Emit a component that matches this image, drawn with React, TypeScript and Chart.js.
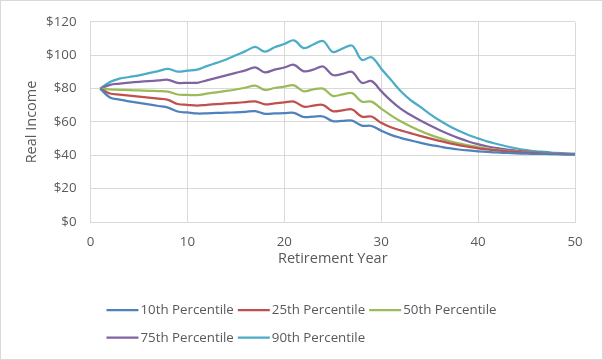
import React, { useEffect, useRef } from "react";
import { Chart, registerables } from "chart.js";

Chart.register(...registerables);

const years: number[] = Array.from({ length: 50 }, (_, i) => i + 1);

const seriesNames: string[] = [
  "10th Percentile",
  "25th Percentile",
  "50th Percentile",
  "75th Percentile",
  "90th Percentile",
];

const p10: number[] = [
  80, 74.7, 73.4, 72.4, 71.5, 70.6, 69.6, 68.6, 66.3, 65.7,
  65.1, 65.2, 65.4, 65.6, 65.8, 66.1, 66.5, 64.9, 65.1, 65.3,
  65.5, 63, 63.2, 63.3, 60.5, 60.7, 60.8, 57.8, 57.6, 54.8,
  52.3, 50.5, 49, 47.6, 46.3, 45.3, 44.3, 43.5, 42.9, 42.4,
  42, 41.7, 41.4, 41.2, 41, 40.9, 40.8, 40.7, 40.6, 40.5,
];
const p25: number[] = [
  80, 77.1, 76.4, 75.8, 75.2, 74.6, 74, 73.3, 70.8, 70.3,
  69.8, 70.3, 70.7, 71.1, 71.5, 71.9, 72.4, 70.6, 71.2, 71.7,
  72.2, 69.2, 69.8, 70.2, 66.5, 67, 67.5, 63.2, 63.3, 59.5,
  56.8, 55, 53.3, 51.7, 50.2, 48.7, 47.3, 46.1, 45.1, 44.2,
  43.5, 42.9, 42.4, 42, 41.6, 41.3, 41, 40.8, 40.6, 40.5,
];
const p50: number[] = [
  80, 79.5, 79.3, 79.1, 78.9, 78.7, 78.5, 78.2, 76.5, 76.3,
  76.1, 77, 77.8, 78.6, 79.5, 80.6, 81.8, 79.2, 80.4, 81.2,
  82, 78.4, 79.6, 80, 75.7, 76.5, 77.3, 72.2, 72.2, 68,
  64, 60.5, 57.5, 54.8, 52.4, 50.4, 48.6, 47.2, 46, 45,
  44, 43.3, 42.7, 42.2, 41.8, 41.5, 41.2, 41, 40.8, 40.6,
];
const p75: number[] = [
  80, 82.3, 83, 83.6, 84.1, 84.5, 84.9, 85.3, 83.5, 83.5,
  83.5, 85, 86.5, 88, 89.5, 91, 92.8, 89.8, 91.4, 92.7,
  94.3, 90.4, 91.4, 93.3, 88.2, 88.8, 90, 83.5, 84.5, 78.5,
  72.8, 68, 64.3, 61, 58, 55.2, 52.6, 50.3, 48.3, 46.7,
  45.3, 44.3, 43.5, 42.7, 42.2, 41.8, 41.4, 41.2, 41, 40.8,
];
const p90: number[] = [
  80, 84, 86, 87, 88, 89.3, 90.5, 91.8, 90.2, 90.8,
  91.4, 93.5, 95.5, 97.5, 100, 102.5, 105, 102.2, 104.8, 106.8,
  109, 104.3, 106.5, 108.6, 102, 104, 105.8, 97.3, 98.8, 92,
  85.3, 78.6, 73.3, 69.2, 64.9, 61, 57.6, 54.7, 52.2, 50.2,
  48.2, 46.7, 45.3, 44.1, 43.1, 42.4, 42, 41.4, 41, 40.8,
];

const seriesValues: number[][] = [p10, p25, p50, p75, p90];
const seriesColors: string[] = ["#4F81BD", "#C0504D", "#9BBB59", "#8064A2", "#4BACC6"];

const xAxisTitle = "Retirement Year";
const yAxisTitle = "Real Income";

const FONT = "'Open Sans', 'Noto Sans', sans-serif";
const TEXT_COLOR = "#595959";
const GRID_COLOR = "#d9d9d9";

const W = 603;
const H = 360;

const backgroundAndLegend = {
  id: "bgLegend",
  beforeDraw(chart: any) {
    const ctx = chart.ctx;
    ctx.save();
    ctx.fillStyle = "#ffffff";
    ctx.fillRect(0, 0, chart.width, chart.height);
    ctx.restore();
  },
  afterDraw(chart: any) {
    const ctx = chart.ctx;
    ctx.save();
    // outer border
    ctx.strokeStyle = GRID_COLOR;
    ctx.lineWidth = 1;
    ctx.strokeRect(0.5, 0.5, chart.width - 1, chart.height - 1);

    // legend: block centered, rows left aligned
    const fontSize = 13.3;
    ctx.font = `${fontSize}px ${FONT}`;
    const lineLen = 32;
    const gap = 2;
    const itemGap = 4;
    const perRow = 3;
    const rowsY = [310, 337.7];
    const datasets = chart.data.datasets;
    const widths = datasets.map((d: any) => lineLen + gap + ctx.measureText(d.label).width);
    let row1 = 0;
    for (let i = 0; i < Math.min(perRow, widths.length); i++) row1 += widths[i] + (i > 0 ? itemGap : 0);
    const startX = chart.width / 2 - row1 / 2;
    ctx.textBaseline = "middle";
    ctx.textAlign = "left";
    datasets.forEach((d: any, i: number) => {
      const row = Math.floor(i / perRow);
      const col = i % perRow;
      let x = startX;
      for (let k = row * perRow; k < row * perRow + col; k++) x += widths[k] + itemGap;
      const y = rowsY[row];
      ctx.strokeStyle = d.borderColor;
      ctx.lineWidth = 2.25;
      ctx.beginPath();
      ctx.moveTo(x, y);
      ctx.lineTo(x + lineLen, y);
      ctx.stroke();
      ctx.fillStyle = TEXT_COLOR;
      ctx.fillText(d.label, x + lineLen + gap, y + 0.5);
    });
    ctx.restore();
  },
};

export default function App() {
  const canvasRef = useRef<HTMLCanvasElement | null>(null);

  useEffect(() => {
    if (!canvasRef.current) return;
    const datasets = seriesNames.map((name, si) => ({
      label: name,
      data: years.map((yr, i) => ({ x: yr, y: seriesValues[si][i] })),
      borderColor: seriesColors[si],
      backgroundColor: seriesColors[si],
      borderWidth: 2.25,
      pointRadius: 0,
      pointHoverRadius: 0,
      tension: 0.35,
      fill: false,
    }));

    const chart = new Chart(canvasRef.current, {
      type: "line",
      data: { datasets },
      options: {
        responsive: false,
        animation: false,
        devicePixelRatio: 1,
        layout: { padding: { top: 18, right: 28, bottom: 0, left: 0 } },
        plugins: {
          legend: { display: false },
          tooltip: { enabled: false },
        },
        scales: {
          x: {
            type: "linear",
            min: 0,
            max: 50,
            ticks: {
              stepSize: 10,
              padding: 12,
              color: TEXT_COLOR,
              font: { family: FONT, size: 13.3 },
            },
            grid: { color: GRID_COLOR, lineWidth: 1, drawTicks: false },
            border: { color: GRID_COLOR },
            title: {
              display: true,
              text: xAxisTitle,
              color: TEXT_COLOR,
              font: { family: FONT, size: 14.5 },
              padding: { top: 0, bottom: 92.8 },
            },
            afterFit: (s: any) => {
              s.height = 138;
            },
          },
          y: {
            type: "linear",
            min: 0,
            max: 120,
            ticks: {
              stepSize: 20,
              padding: 14,
              color: TEXT_COLOR,
              font: { family: FONT, size: 13.3 },
              callback: (v: any) => "$" + v,
            },
            grid: { color: GRID_COLOR, lineWidth: 1, drawTicks: false },
            border: { color: GRID_COLOR },
            title: {
              display: true,
              text: yAxisTitle,
              color: TEXT_COLOR,
              font: { family: FONT, size: 14.5 },
              padding: { top: 23, bottom: 0 },
            },
            afterFit: (s: any) => {
              s.width = 90.5;
            },
          },
        },
      },
      plugins: [backgroundAndLegend],
    });
    return () => chart.destroy();
  }, []);

  return (
    <div style={{ position: "fixed", left: 0, top: 0, width: W, height: H }}>
      <canvas ref={canvasRef} width={W} height={H} style={{ display: "block" }} />
    </div>
  );
}
